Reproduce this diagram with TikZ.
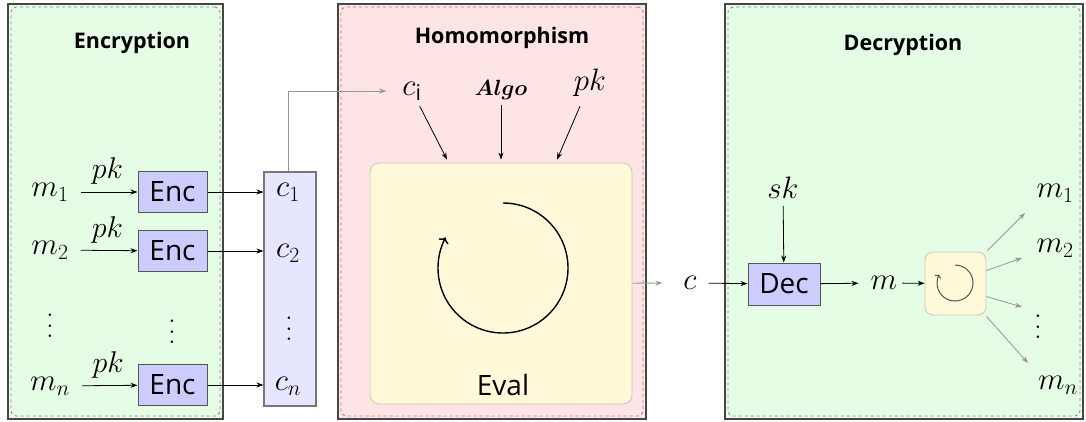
\RequirePackage{fix-cm}
\documentclass[tikz,border=0pt]{standalone}
\usepackage{amsmath}
\usepackage{bm}
\usepackage{fontspec}
\setsansfont{Open Sans}
\usetikzlibrary{arrows.meta,calc}
\definecolor{pgreen}{RGB}{229,252,229}
\definecolor{ppink}{RGB}{255,228,230}
\definecolor{pyellow}{RGB}{255,249,218}
\definecolor{plav}{RGB}{204,204,255}
\definecolor{plavlight}{RGB}{230,230,255}
\definecolor{pborder}{RGB}{85,85,85}
\definecolor{pouter}{RGB}{70,70,70}
\definecolor{pdash}{RGB}{140,140,140}
\definecolor{parrow}{RGB}{150,150,150}
\definecolor{pbox}{RGB}{200,200,185}
\newcommand{\myvdots}{\vbox{\baselineskip=10.5pt\lineskiplimit=0pt\hbox{.}\hbox{.}\hbox{.}}}
\begin{document}
\begin{tikzpicture}[x=1pt,y=1pt,
  panel/.style={draw=pouter, line width=1.6pt, inner sep=0pt},
  paneldash/.style={draw=pdash, dashed, line width=0.9pt, rounded corners=5pt, inner sep=0pt},
  paneltitle/.style={font=\sffamily\bfseries\fontsize{21.5}{25}\selectfont, inner sep=0pt},
  mathlbl/.style={font=\fontsize{31}{36}\selectfont, inner sep=2pt},
  dotslbl/.style={font=\fontsize{31}{36}\selectfont, inner sep=0pt},
  pklbl/.style={font=\fontsize{30}{34}\selectfont, inner sep=2pt},
  algobox/.style={draw=pborder, fill=plav, line width=1pt, inner sep=0pt,
    font=\sffamily\fontsize{28}{32}\selectfont},
  ccolbox/.style={draw=pborder!80, fill=plavlight, line width=1.1pt, inner sep=0pt,
    minimum width=52pt, minimum height=234pt},
  evalstyle/.style={draw=pbox, fill=pyellow, line width=0.8pt, rounded corners=9pt, inner sep=0pt},
  sanslbl/.style={font=\sffamily\fontsize{28}{32}\selectfont, inner sep=0pt},
  arr/.style={-{Stealth[length=7pt,width=5pt]}, line width=0.8pt, draw=black},
  garr/.style={-{Stealth[length=7pt,width=5pt]}, line width=0.8pt, draw=parrow},
  circarr/.style={-{To[length=5pt,width=11pt]}, line width=1.4pt, draw=black},
  smallcircarr/.style={-{To[length=3pt,width=7pt]}, line width=1pt, draw=pborder}
]
\useasboundingbox (0,0) rectangle (1086,-421);

% panels
\node[panel, fill=pgreen, minimum width=215pt, minimum height=415pt] (pE) at (115.5,-211.5) {};
\node[paneldash, minimum width=209pt, minimum height=409pt] (pEd) at (pE.center) {};
\node[panel, fill=ppink, minimum width=308pt, minimum height=415pt] (pH) at (492,-211.5) {};
\node[paneldash, minimum width=302pt, minimum height=409pt] (pHd) at (pH.center) {};
\node[panel, fill=pgreen, minimum width=358pt, minimum height=415pt] (pD) at (904,-211.5) {};
\node[paneldash, minimum width=352pt, minimum height=409pt] (pDd) at (pD.center) {};

\node[paneltitle] (tE) at (132,-43) {Encryption};
\node[paneltitle] (tH) at (502,-38) {Homomorphism};
\node[paneltitle] (tD) at (903,-45) {Decryption};

% Encryption
\node[mathlbl] (m1) at (50,-192) {$m_1$};
\node[mathlbl] (m2) at (50,-250) {$m_2$};
\node[dotslbl] (mdots) at (50,-326) {\myvdots};
\node[mathlbl] (mn) at (50,-386) {$m_n$};

\node[algobox, minimum width=69pt, minimum height=41pt] (enc1) at (172.5,-192) {Enc};
\node[algobox, minimum width=69pt, minimum height=41pt] (enc2) at (172.5,-251) {Enc};
\node[dotslbl] (edots) at (172,-332) {\myvdots};
\node[algobox, minimum width=69pt, minimum height=41pt] (encn) at (172.5,-385) {Enc};

\draw[arr, shorten <=10pt] (m1) -- node[above=5pt, pklbl, pos=0.55] (pk1) {$pk$} (enc1);
\draw[arr, shorten <=10pt] (m2) -- node[above=5pt, pklbl, pos=0.55] (pk2) {$pk$} (enc2);
\draw[arr, shorten <=10pt] (mn) -- node[above=5pt, pklbl, pos=0.55] (pkn) {$pk$} (encn);

% ciphertext column
\node[ccolbox] (ccol) at (290,-289) {};
\node[mathlbl] (c1) at (288,-192) {$c_1$};
\node[mathlbl] (c2) at (288,-253) {$c_2$};
\node[dotslbl] (cdots) at (289,-329) {\myvdots};
\node[mathlbl] (cn) at (288,-386) {$c_n$};

\draw[arr] (enc1) -- (enc1 -| ccol.west);
\draw[arr] (enc2) -- (enc2 -| ccol.west);
\draw[arr] (encn) -- (encn -| ccol.west);

% Homomorphism
\node[mathlbl] (ci) at (412,-91) {$c_{\text{\sffamily i}}$};
\node[inner sep=2pt, font=\fontsize{22}{26}\selectfont] (algo) at (501,-90) {$\bm{Algo}$};
\node[mathlbl] (pkh) at (590,-83) {$pk$};

\draw[garr, shorten >=14pt] (c1 |- ccol.north) |- (ci);

\node[evalstyle, minimum width=262pt, minimum height=241pt] (evalbox) at (501,-283.5) {};
\node[sanslbl] (evallbl) at (503,-385) {Eval};
\coordinate (rot) at (503,-268);
\draw[circarr] ([shift={(90:65)}]rot) arc[start angle=90, end angle=-208, radius=65];

\draw[arr, shorten <=4pt] (ci) -- ([xshift=-54pt,yshift=3pt]evalbox.north);
\draw[arr, shorten <=3pt] (algo) -- ([yshift=3pt]evalbox.north);
\draw[arr, shorten <=8pt] (pkh) -- ([xshift=56pt,yshift=3pt]evalbox.north);

% Decryption
\node[mathlbl] (c) at (690,-283) {$c$};
\draw[garr, shorten >=19pt] (evalbox) -- (c);

\node[algobox, minimum width=72pt, minimum height=42pt] (dec) at (784,-284) {Dec};
\node[mathlbl] (sk) at (783,-188) {$sk$};
\draw[arr, shorten <=10pt] (c) -- (dec);
\draw[arr, shorten <=5pt] (sk) -- (dec);

\node[mathlbl] (mm) at (884,-283) {$m$};
\draw[arr, shorten >=10pt] (dec) -- (mm);

\node[evalstyle, rounded corners=8pt, minimum width=61pt, minimum height=63pt] (sb) at (955.5,-283.5) {};
\coordinate (rot2) at (955,-283);
\draw[smallcircarr] ([shift={(90:18)}]rot2) arc[start angle=90, end angle=-208, radius=18];
\draw[arr, shorten <=3pt] (mm) -- (sb);

\node[mathlbl] (o1) at (1055,-193) {$m_1$};
\node[mathlbl] (o2) at (1055,-248) {$m_2$};
\node[dotslbl] (odots) at (1038,-327) {\myvdots};
\node[mathlbl] (on) at (1058,-385) {$m_n$};

\coordinate (e1) at (1025,-213);
\coordinate (e2) at (1022,-258);
\coordinate (e3) at (1022,-307);
\coordinate (e4) at (1028,-363);
\draw[garr] ([shift={(1,1)}]sb.north east) -- (e1);
\draw[garr] ([yshift=13pt]sb.east) -- (e2);
\draw[garr] ([yshift=-13pt]sb.east) -- (e3);
\draw[garr] ([shift={(0,-1)}]sb.south east) -- (e4);
\end{tikzpicture}
\end{document}
